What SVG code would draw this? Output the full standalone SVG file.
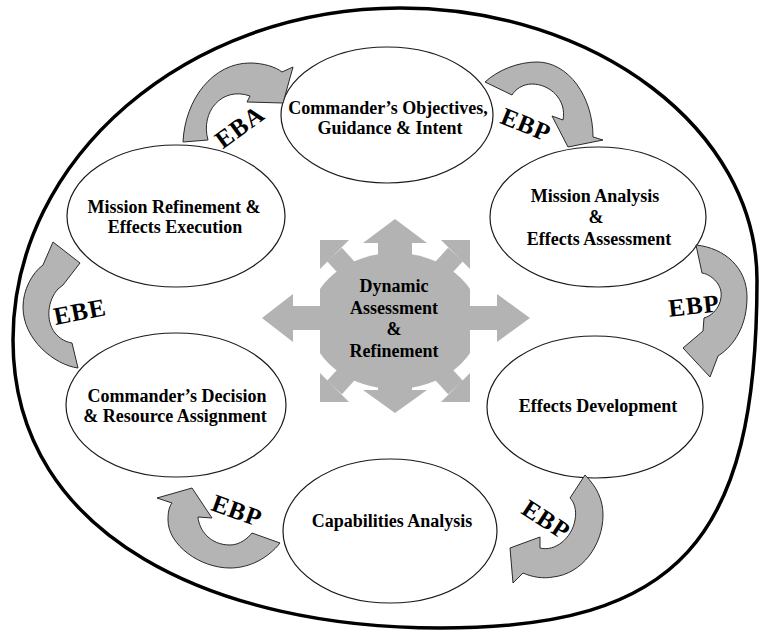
<svg xmlns="http://www.w3.org/2000/svg" width="761" height="632" viewBox="0 0 761 632">
<style>
  .node ellipse { fill:#ffffff; stroke:#1a1a1a; stroke-width:1.2; }
  .lbl { font-family:"Liberation Serif","Times New Roman",serif; font-weight:bold; font-size:18px; fill:#000; text-anchor:middle; }
  .eb { font-family:"Liberation Serif","Times New Roman",serif; font-weight:bold; font-size:25px; fill:#000; text-anchor:middle; letter-spacing:1px; }
  .carrow { fill:#b4b4b4; stroke:#2a2a2a; stroke-width:1; stroke-linejoin:miter; }
  .hub { fill:#b3b3b3; }
</style>
<defs>
  <clipPath id="sq"><rect x="320" y="240" width="150" height="162"/></clipPath>
</defs>
<rect width="761" height="632" fill="#ffffff"/>
<path id="frame" d="M400,8 C596,8 757,130 757,280 C757,541 678,628 440,628 C220,628 13,540 13,340 C13,158 187,8 400,8 Z" fill="none" stroke="#000" stroke-width="3.5"/>

<g id="hub" class="hub">
  <ellipse cx="395" cy="321" rx="85" ry="68" clip-path="url(#sq)"/>
  <polygon points="395,219 427,243 412,243 412,321 378,321 378,243 363,243"/>
  <polygon points="395,413 427,390 412,390 412,321 378,321 378,390 363,390"/>
  <polygon points="262,318 293,294 293,306 395,306 395,330 293,330 293,342"/>
  <polygon points="530,318 497,294 497,306 395,306 395,330 497,330 497,342"/>
  <polygon points="320,240 349,240 320,269"/>
  <polygon points="470,240 441,240 470,269"/>
  <polygon points="320,402 349,402 320,373"/>
  <polygon points="470,402 441,402 470,373"/>
  <g stroke="#b3b3b3" stroke-width="20">
    <line x1="334.5" y1="254.5" x2="395" y2="321"/>
    <line x1="455.5" y1="254.5" x2="395" y2="321"/>
    <line x1="334.5" y1="387.5" x2="395" y2="321"/>
    <line x1="455.5" y1="387.5" x2="395" y2="321"/>
  </g>
  <text class="lbl" x="394" y="292">Dynamic</text>
  <text class="lbl" x="394" y="314">Assessment</text>
  <text class="lbl" x="394" y="335">&amp;</text>
  <text class="lbl" x="394" y="357">Refinement</text>
</g>

<g id="n-objectives" class="node">
  <ellipse cx="387" cy="115" rx="106" ry="68"/>
  <text class="lbl" x="388" y="114">Commander’s Objectives,</text>
  <text class="lbl" x="390" y="134">Guidance &amp; Intent</text>
</g>
<g id="n-mission-analysis" class="node">
  <ellipse cx="598" cy="217" rx="108" ry="70"/>
  <text class="lbl" x="595" y="202">Mission Analysis</text>
  <text class="lbl" x="596" y="223">&amp;</text>
  <text class="lbl" x="599" y="245">Effects Assessment</text>
</g>
<g id="n-effects-dev" class="node">
  <ellipse cx="595" cy="407" rx="108" ry="71"/>
  <text class="lbl" x="598" y="412">Effects Development</text>
</g>
<g id="n-capabilities" class="node">
  <ellipse cx="390" cy="531" rx="107" ry="72"/>
  <text class="lbl" x="392" y="527">Capabilities Analysis</text>
</g>
<g id="n-decision" class="node">
  <ellipse cx="176" cy="405" rx="110" ry="72"/>
  <text class="lbl" x="177" y="402">Commander’s Decision</text>
  <text class="lbl" x="175" y="422">&amp; Resource Assignment</text>
</g>
<g id="n-refinement" class="node">
  <ellipse cx="176" cy="216" rx="109" ry="71"/>
  <text class="lbl" x="174" y="213">Mission Refinement &amp;</text>
  <text class="lbl" x="175" y="233">Effects Execution</text>
</g>

<g id="connectors">
  <path class="carrow" d="M183,142 C185,99 213,63 250,63 C263,63 276,67 282,72 L293,67 L283,103 L247,102 L250,96 C222,86 200,112 208,140 Z"/>
  <path class="carrow" d="M485,82 C498,70 518,62 537,62 C568,62 593,96 593,137 L603,140 L568,147 L552,116 L563,120 C567,100 550,84 532,84 C522,84 515,90 512,95 Z"/>
  <path class="carrow" d="M696,245 C725,248 747,268 747,297 C747,325 735,345 718,356 L710,377 L683,348 L703,331 L704,318 C718,314 726,296 718,284 C714,278 708,274 702,273 Z"/>
  <path class="carrow" d="M585,475 C597,487 603,500 603,515 C603,545 582,574 553,577 C543,579 532,577 523,573 L513,583 L510,548 L540,537 L540,548 C555,552 572,538 575,520 C577,510 574,502 570,498 Z"/>
  <path class="carrow" d="M280,543 C268,558 250,568 230,568 C200,568 168,545 168,520 C168,512 169,507 172,503 L157,498 L192,488 L212,518 L198,517 C199,530 210,545 230,545 C240,545 248,538 252,533 Z"/>
  <path class="carrow" d="M78,368 C55,365 23,340 23,307 C23,290 32,273 43,265 L53,242 L80,263 L63,285 L58,289 C48,300 45,320 55,333 C60,339 66,342 72,343 Z"/>
  <text class="eb" transform="translate(240,127) rotate(-36)" x="0" y="8">EBA</text>
  <text class="eb" transform="translate(526,125) rotate(22)" x="0" y="8">EBP</text>
  <text class="eb" transform="translate(694,306) rotate(-6)" x="0" y="8">EBP</text>
  <text class="eb" transform="translate(546,520) rotate(33)" x="0" y="8">EBP</text>
  <text class="eb" transform="translate(237,511) rotate(20)" x="0" y="8">EBP</text>
  <text class="eb" transform="translate(80,312) rotate(-11)" x="0" y="8">EBE</text>
</g>
</svg>
